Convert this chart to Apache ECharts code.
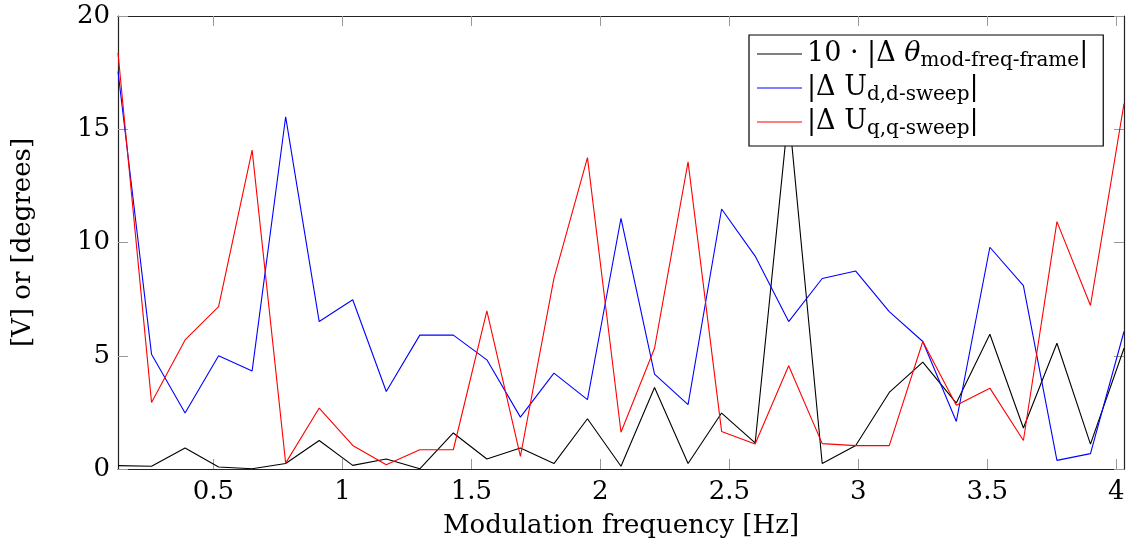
<!DOCTYPE html>
<html>
<head>
<meta charset="utf-8">
<script src="https://cdn.jsdelivr.net/npm/echarts@6/dist/echarts.min.js"></script>
<style>
  html, body { margin: 0; padding: 0; background: #fff; }
  #chart { width: 1128px; height: 550px; }
</style>
</head>
<body>
<div id="chart"></div>
<script>
// modulation frequencies [Hz]
const freqs = [0.13, 0.26, 0.39, 0.52, 0.65, 0.78, 0.91, 1.04, 1.17, 1.30, 1.43, 1.56, 1.69, 1.82, 1.95, 2.08,
  2.21, 2.34, 2.47, 2.60, 2.73, 2.86, 2.99, 3.12, 3.25, 3.38, 3.51, 3.64, 3.77, 3.90, 4.03];
// 10 * |dTheta mod-freq-frame|
const thetaVals = [0.15, 0.12, 0.93, 0.09, 0.01, 0.24, 1.26, 0.16, 0.44, 0.01, 1.59, 0.44, 0.93, 0.24, 2.22, 0.12,
  3.60, 0.24, 2.47, 1.15, 15.8, 0.24, 1.04, 3.38, 4.72, 2.91, 5.95, 1.81, 5.55, 1.10, 5.33];
// |dU d,d-sweep|
const udVals = [17.55, 5.07, 2.47, 5.00, 4.33, 15.55, 6.51, 7.47, 3.42, 5.91, 5.91, 4.82, 2.29, 4.23, 3.06, 11.07,
  4.19, 2.84, 11.48, 9.40, 6.51, 8.41, 8.74, 6.95, 5.63, 2.10, 9.79, 8.10, 0.38, 0.68, 6.07];
// |dU q,q-sweep|
const uqVals = [18.37, 2.94, 5.70, 7.17, 14.08, 0.26, 2.69, 1.04, 0.19, 0.85, 0.85, 6.98, 0.56, 8.42, 13.75, 1.62,
  5.33, 13.56, 1.66, 1.10, 4.56, 1.12, 1.03, 1.03, 5.63, 2.81, 3.57, 1.26, 10.92, 7.22, 16.13];
const xTicks = [0.5, 1, 1.5, 2, 2.5, 3, 3.5, 4];

const FONT = 'DejaVu Serif';
const pair = (vals) => freqs.map((f, i) => [f, vals[i]]);

const chart = echarts.init(document.getElementById('chart'));

// pgfplots-style box: ticks inside on all four sides
const tickStyle = { show: true, inside: true, length: 10, lineStyle: { color: '#999', width: 1 } };
const lineAxis = { show: true, onZero: false, lineStyle: { color: '#222', width: 1.2 } };

const legendText = {
  theta: '{n|10 · |Δ }{it|θ}{s|mod-freq-frame}{n||}',
  ud: '{n||Δ U}{s|d,d-sweep}{n||}',
  uq: '{n||Δ U}{s|q,q-sweep}{n||}',
};

const option = {
  animation: false,
  backgroundColor: '#fff',
  grid: { left: 118, right: 4, top: 16, bottom: 81 },
  legend: {
    data: [
      { name: 'theta', icon: 'rect' },
      { name: 'ud', icon: 'rect' },
      { name: 'uq', icon: 'rect' },
    ],
    orient: 'vertical',
    left: 749,
    top: 35,
    padding: [2, 15, 7, 8],
    itemWidth: 45,
    itemHeight: 1.2,
    itemGap: 0,
    backgroundColor: '#fff',
    borderColor: '#000',
    borderWidth: 1.2,
    borderRadius: 0,
    selectedMode: false,
    formatter: (name) => legendText[name],
    textStyle: {
      fontFamily: FONT,
      color: '#000',
      rich: {
        n: { fontFamily: FONT, fontSize: 27, lineHeight: 36, color: '#000' },
        it: { fontFamily: FONT, fontSize: 27, lineHeight: 36, fontStyle: 'italic', color: '#000' },
        s: { fontFamily: FONT, fontSize: 20, lineHeight: 36, padding: [14, 0, 0, 0], color: '#000' },
      },
    },
  },
  xAxis: [
    {
      type: 'value',
      min: 0.13,
      max: 4.03,
      name: 'Modulation frequency [Hz]',
      nameLocation: 'middle',
      nameGap: 44,
      nameTextStyle: { fontFamily: FONT, fontSize: 26, color: '#000' },
      axisLine: lineAxis,
      axisTick: Object.assign({ customValues: xTicks }, tickStyle),
      axisLabel: { customValues: xTicks, fontFamily: FONT, fontSize: 26, color: '#000', margin: 10 },
      splitLine: { show: false },
    },
    {
      type: 'value',
      position: 'top',
      min: 0.13,
      max: 4.03,
      axisLine: lineAxis,
      axisTick: Object.assign({ customValues: xTicks }, tickStyle),
      axisLabel: { show: false },
      splitLine: { show: false },
    },
  ],
  yAxis: [
    {
      type: 'value',
      min: 0,
      max: 20,
      interval: 5,
      name: '[V] or [degrees]',
      nameLocation: 'middle',
      nameGap: 82,
      nameTextStyle: { fontFamily: FONT, fontSize: 26, color: '#000' },
      axisLine: lineAxis,
      axisTick: tickStyle,
      axisLabel: { fontFamily: FONT, fontSize: 26, color: '#000', margin: 8 },
      splitLine: { show: false },
    },
    {
      type: 'value',
      position: 'right',
      min: 0,
      max: 20,
      interval: 5,
      axisLine: lineAxis,
      axisTick: tickStyle,
      axisLabel: { show: false },
      splitLine: { show: false },
    },
  ],
  series: [
    {
      name: 'theta',
      type: 'line',
      data: pair(thetaVals),
      symbol: 'none',
      lineStyle: { color: '#000', width: 1.1 },
      itemStyle: { color: '#000' },
    },
    {
      name: 'ud',
      type: 'line',
      data: pair(udVals),
      symbol: 'none',
      lineStyle: { color: '#0000ff', width: 1.1 },
      itemStyle: { color: '#0000ff' },
    },
    {
      name: 'uq',
      type: 'line',
      data: pair(uqVals),
      symbol: 'none',
      lineStyle: { color: '#ff0000', width: 1.1 },
      itemStyle: { color: '#ff0000' },
    },
  ],
};

chart.setOption(option);
</script>
</body>
</html>
